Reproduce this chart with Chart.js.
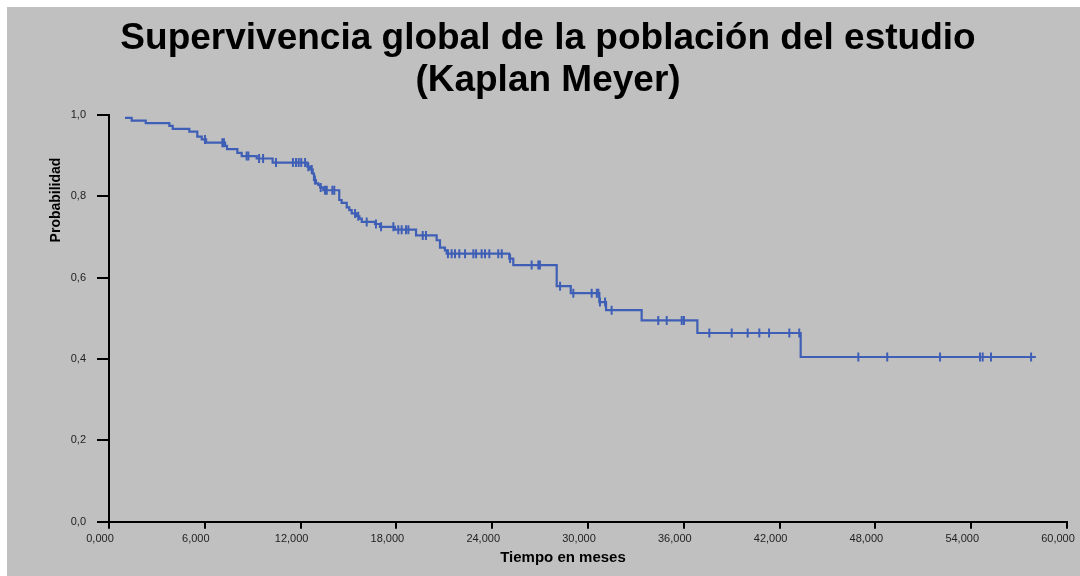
<!DOCTYPE html>
<html>
<head>
<meta charset="utf-8">
<script src="https://cdn.jsdelivr.net/npm/chart.js@4.4.1/dist/chart.umd.min.js"></script>
<style>
  html, body { margin: 0; padding: 0; background: #ffffff; }
  #wrap { position: absolute; left: 7px; top: 7px; width: 1073px; height: 569px; background: #c0c0c0; }
  canvas { display: block; }
</style>
</head>
<body>
<div id="wrap"><canvas id="c" width="1073" height="569"></canvas></div>
<script>
// ---- Data ----
const titleLines = ['Supervivencia global de la población del estudio', '(Kaplan Meyer)'];
const xAxisTitle = 'Tiempo en meses';
const yAxisTitle = 'Probabilidad';

// Event times (months) and survival after each event
const eventTimes = [1.0, 1.42, 2.30, 3.78, 3.99, 5.03, 5.53, 5.81, 6.08, 7.27, 7.39, 8.04, 8.31, 9.25, 10.25,
  12.42, 12.59, 12.76, 12.84, 12.96, 13.11, 13.22, 13.42, 14.42, 14.57, 14.89, 15.05, 15.20, 15.51, 15.68, 15.83,
  16.66, 16.97, 17.91, 19.23, 20.52, 20.73, 21.04, 21.15, 25.07, 25.32, 28.04, 28.92, 30.71, 31.13, 33.36, 36.85, 43.32];
const survival = [0.993, 0.986, 0.980, 0.973, 0.966, 0.959, 0.947, 0.940, 0.932, 0.924, 0.916, 0.907, 0.899, 0.893, 0.883,
  0.873, 0.866, 0.856, 0.840, 0.832, 0.828, 0.822, 0.815, 0.791, 0.784, 0.773, 0.766, 0.758, 0.751, 0.745, 0.737,
  0.732, 0.725, 0.718, 0.704, 0.692, 0.674, 0.667, 0.659, 0.647, 0.631, 0.579, 0.562, 0.540, 0.520, 0.495, 0.464, 0.405];
const lastTime = 58.05;

// Censored observation times (months)
const censorTimes = [6.01, 7.10, 7.20, 8.62, 8.73, 9.40, 9.65, 10.46, 11.52, 11.71, 11.88, 12.04, 12.28, 12.48, 12.70,
  12.90, 13.26, 13.53, 13.64, 13.99, 14.11, 15.41, 15.61, 16.14, 16.72, 17.04, 17.81, 18.12, 18.33, 18.60, 18.75,
  19.65, 19.85, 21.23, 21.46, 21.67, 21.94, 22.30, 22.82, 22.99, 23.34, 23.55, 23.82, 24.38, 24.60, 25.12, 26.47,
  26.89, 26.99, 28.25, 29.08, 30.23, 30.55, 30.65, 30.75, 31.07, 31.48, 34.40, 34.93, 35.87, 36.01, 37.60, 39.00,
  40.00, 40.73, 41.34, 42.61, 43.23, 46.93, 48.74, 52.05, 54.55, 54.72, 55.24, 57.75];

const xTickValues = [0, 6, 12, 18, 24, 30, 36, 42, 48, 54, 60];
const xTickLabels = ['0,000', '6,000', '12,000', '18,000', '24,000', '30,000', '36,000', '42,000', '48,000', '54,000', '60,000'];
const yTickValues = [0, 0.2, 0.4, 0.6, 0.8, 1.0];
const yTickLabels = ['0,0', '0,2', '0,4', '0,6', '0,8', '1,0'];

// ---- Build datasets ----
const kmPoints = eventTimes.map((t, i) => ({ x: t, y: survival[i] }));
kmPoints.push({ x: lastTime, y: survival[survival.length - 1] });

function survivalAt(t) {
  let s = survival[0];
  for (let i = 0; i < eventTimes.length; i++) {
    if (eventTimes[i] <= t) s = survival[i]; else break;
  }
  return s;
}
const censorPoints = censorTimes.map(t => ({ x: t, y: survivalAt(t) }));

const lineColor = '#3f5fb6';
const FONT = "'Liberation Sans', Arial, sans-serif";

const axisTitlePlugin = {
  id: 'axisTitles',
  afterDraw(chart) {
    const ctx = chart.ctx;
    ctx.save();
    ctx.fillStyle = '#000';
    ctx.font = 'bold 15px ' + FONT;
    ctx.textAlign = 'center';
    ctx.textBaseline = 'middle';
    ctx.fillText(xAxisTitle, 556, 551);
    ctx.translate(49, 193);
    ctx.rotate(-Math.PI / 2);
    ctx.font = 'bold 14px ' + FONT;
    ctx.fillText(yAxisTitle, 0, 0);
    ctx.restore();
  }
};

new Chart(document.getElementById('c'), {
  type: 'scatter',
  data: {
    datasets: [
      {
        label: 'Supervivencia',
        data: kmPoints,
        showLine: true,
        stepped: 'before',
        borderColor: lineColor,
        borderWidth: 2.2,
        pointRadius: 0,
        fill: false
      },
      {
        label: 'Censurado',
        data: censorPoints,
        showLine: false,
        pointStyle: 'line',
        rotation: 90,
        pointRadius: 4.5,
        pointBorderWidth: 2,
        borderColor: lineColor,
        backgroundColor: lineColor
      }
    ]
  },
  options: {
    responsive: false,
    animation: false,
    layout: { padding: { left: 22, right: 13, top: 0, bottom: 0 } },
    plugins: {
      legend: { display: false },
      tooltip: { enabled: false },
      title: {
        display: true,
        text: titleLines,
        color: '#000',
        font: { family: FONT, size: 37, weight: 'bold', lineHeight: 1.135 },
        padding: { top: 11, bottom: 13 }
      }
    },
    scales: {
      x: {
        type: 'linear',
        min: 0,
        max: 60,
        afterFit(scale) { scale.height = 54.3; scale.paddingLeft = 0; scale.paddingRight = 0; },
        afterBuildTicks(scale) { scale.ticks = xTickValues.map(v => ({ value: v })); },
        border: { display: true, color: '#000', width: 2 },
        grid: { display: true, drawOnChartArea: false, drawTicks: true, tickLength: 7, color: '#000', lineWidth: 2 },
        ticks: {
          color: '#222',
          font: { family: FONT, size: 11 },
          padding: 4,
          labelOffset: -9,
          maxRotation: 0,
          autoSkip: false,
          callback: (v) => { const i = xTickValues.indexOf(v); return i >= 0 ? xTickLabels[i] : ''; }
        }
      },
      y: {
        type: 'linear',
        min: 0,
        max: 1,
        afterFit(scale) { scale.width = 80; scale.paddingTop = 0; scale.paddingBottom = 0; },
        afterBuildTicks(scale) { scale.ticks = yTickValues.map(v => ({ value: v })); },
        border: { display: true, color: '#000', width: 2 },
        grid: { display: true, drawOnChartArea: false, drawTicks: true, tickLength: 12, color: '#000', lineWidth: 2 },
        ticks: {
          color: '#222',
          font: { family: FONT, size: 11 },
          padding: 11,
          autoSkip: false,
          callback: (v) => { const i = yTickValues.findIndex(t => Math.abs(t - v) < 1e-9); return i >= 0 ? yTickLabels[i] : ''; }
        }
      }
    }
  },
  plugins: [axisTitlePlugin]
});
</script>
</body>
</html>
